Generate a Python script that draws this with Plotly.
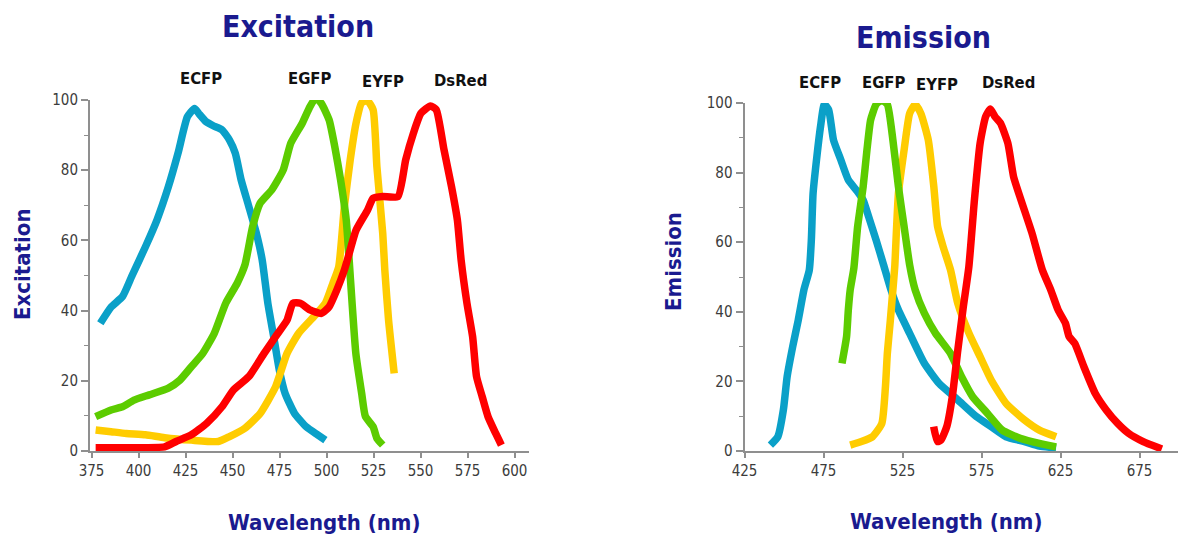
import plotly.graph_objects as go

# ---------------- data ----------------
# Excitation spectra
ex_ecfp_nm = [379.7, 385.4, 391.5, 396.6, 403.7, 409.8, 415.9, 421, 426, 429.8, 432, 436, 440, 444.4,
              448.4, 451.5, 454.6, 458.7, 462.7, 465.8, 468.8, 471.9, 474.9, 478, 483, 489.2, 495.3, 499.4]
ex_ecfp_val = [36.4, 41, 44, 50, 58.2, 65.8, 75.3, 84.8, 95.2, 97.6, 96.2, 93.8, 92.6, 91.5,
               88.6, 84.8, 77.2, 69.6, 62.0, 54.4, 42.1, 32.6, 23.1, 16.4, 10.7, 6.9, 4.6, 3.1]

ex_egfp_nm = [377.2, 385.4, 391.5, 397.6, 405.7, 415.9, 422, 428.1, 434.2, 440.3, 446.4, 452.5, 456.6,
              460.7, 464.7, 470.9, 477, 481, 487.1, 491.2, 494.3, 497.3, 501.4, 504.4, 507.5, 510.5,
              512.6, 515.6, 518.7, 520.7, 524.8, 526.8, 529.9]
ex_egfp_val = [9.8, 11.7, 12.6, 14.5, 16, 17.9, 20.2, 24, 27.8, 33.5, 42.1, 47.8, 53,
               63.9, 70.6, 74.4, 80.1, 87.7, 93.4, 98.1, 100.6, 99, 94.3, 86.7, 77.2, 65.8,
               50, 27.8, 16.4, 9.8, 6.9, 3.6, 1.7]

ex_eyfp_nm = [377.2, 385.4, 393.5, 403.7, 413.9, 428.1, 442.4, 448.4, 456.6, 464.7, 472.9, 479, 485.1,
              493.3, 499.4, 503.4, 506.5, 509.5, 512.6, 515.7, 518.7, 521.8, 524.8, 526.8, 529.9,
              531, 533, 536]
ex_eyfp_val = [6, 5.5, 5, 4.6, 3.8, 3.1, 2.7, 4.1, 6.5, 10.7, 18.3, 27.8, 33.5,
               38.3, 42.1, 47.8, 52.5, 69.6, 82.9, 93.4, 99.2, 99.8, 97.2, 81, 62,
               51.6, 37.3, 22.1]

ex_dsred_nm = [377.2, 387.4, 397.6, 413.9, 420, 428.1, 436.3, 444.4, 450.5, 458.7, 466.8, 472.9, 479,
               482.1, 486.1, 491.2, 497.3, 501.4, 505.5, 509.5, 511.6, 515.7, 521.8, 524.8, 529.9,
               538, 542.1, 546.2, 550.2, 555.3, 558.4, 562.5, 566.5, 569.6, 571.6, 574.7, 577.7,
               579.8, 582.8, 585.9, 590, 593]
ex_dsred_val = [0.95, 0.95, 0.95, 1.2, 2.7, 4.6, 7.9, 12.6, 17.4, 21.2, 27.8, 32.6, 37.3,
                42.1, 42.1, 40.2, 39.2, 41.1, 45.9, 51.6, 55.4, 62.9, 68.6, 72, 72.5,
                72.5, 82.9, 90.5, 96.2, 98.3, 97.2, 85.8, 75.3, 65.8, 54.4, 42.1, 32.6,
                21.2, 15.5, 9.8, 5, 1.7]

# Emission spectra
em_ecfp_nm = [441.4, 446.1, 449.6, 452, 455.5, 459, 462.6, 466, 467.3, 468.4, 470.8, 473.1, 475.5,
              478.3, 481.3, 486, 490.7, 496.6, 500.1, 503.6, 508.3, 513, 517.7, 522.4, 529.5,
              538.8, 548.2, 560, 571.7, 581.1, 590.5, 602.2, 611.6, 622.2]
em_ecfp_val = [1.7, 4.1, 11.8, 21.4, 30, 37.6, 46.3, 52, 60.6, 74, 84.6, 93.2, 99.6,
               98, 89.4, 83.6, 77.9, 74.5, 72.1, 67.3, 60.6, 53.5, 46.3, 40.5, 33.8,
               25.2, 19.4, 14.7, 9.9, 7, 4.1, 2.7, 1.4, 0.9]

em_egfp_nm = [486.7, 489.6, 490.7, 491.9, 494.2, 496.6, 500.1, 502.5, 504.8, 508.3, 511.8, 515.4,
              518.9, 522.4, 526, 529.5, 533, 538.8, 545.9, 555.3, 562.3, 569.4, 578.8, 588.1,
              599.9, 611.6, 622.2]
em_egfp_val = [25.2, 32.9, 40.5, 46.3, 52.5, 64.5, 76, 86.5, 95.1, 99.6, 100.8, 99.6,
               89.4, 76, 64.5, 53.5, 46.3, 39.6, 33.8, 28.1, 21.4, 15.6, 10.8, 6,
               3.6, 2.2, 1.2]

em_eyfp_nm = [491.9, 499, 506, 511.9, 514.2, 515.4, 517.3, 518.9, 520.1, 522.4, 526, 529.5, 533,
              536.6, 541.3, 544.8, 547.2, 550.7, 555.4, 560, 567.1, 574.1, 581.1, 590.5, 602.2,
              611.6, 622.2]
em_eyfp_val = [1.7, 2.7, 4.1, 7.9, 18.5, 28.1, 37.6, 46.3, 53, 74, 86.5, 97, 99.6,
               97, 89.4, 76, 64.5, 58.7, 52, 42.4, 33.8, 27.1, 20.4, 13.7, 8.9,
               6, 4.1]

em_dsred_nm = [544.7, 547.1, 549.4, 553, 556.5, 560, 563.5, 567, 570.5, 574.1, 577.6, 580.6, 583.5,
               587, 591.7, 595.3, 600, 607, 613.5, 618.8, 623.5, 628.1, 630.4, 634, 639.8, 646.9,
               653.9, 661, 668, 677.3, 689.1]
em_dsred_val = [7, 2.7, 3.2, 7, 15.6, 29, 41.5, 53, 72.1, 88.4, 96.1, 98.3, 96.1,
                94.2, 88.4, 78.8, 72.1, 62.5, 52, 46.3, 40.5, 36.7, 32.9, 30.9, 24.2, 16.6,
                11.8, 8, 5.1, 2.7, 0.6]

protein_names = ["ECFP", "EGFP", "EYFP", "DsRed"]
ex_ticks = [375, 400, 425, 450, 475, 500, 525, 550, 575, 600]
em_ticks = [425, 475, 525, 575, 625, 675]
y_ticks = [0, 20, 40, 60, 80, 100]

# ---------------- styling ----------------
W, H = 1186, 539
OFF = 8  # the page body margin shifts the figure by this many pixels
COLORS = {"ECFP": "#0aa0c8", "EGFP": "#5ccc00", "EYFP": "#ffcc00", "DsRed": "#ff0000"}
NAVY = "#1a1a8f"
AXIS_GRAY = "#8f8f8f"
FONT = "DejaVu Sans Condensed, Liberation Sans Narrow, Arial Narrow, sans-serif"


def px_x(p):
    return (p - OFF) / W


def px_y(p):
    return 1 - (p - OFF) / H


fig = go.Figure()

ex_series = {"ECFP": (ex_ecfp_nm, ex_ecfp_val), "EYFP": (ex_eyfp_nm, ex_eyfp_val),
             "EGFP": (ex_egfp_nm, ex_egfp_val), "DsRed": (ex_dsred_nm, ex_dsred_val)}
em_series = {"ECFP": (em_ecfp_nm, em_ecfp_val), "EYFP": (em_eyfp_nm, em_eyfp_val),
             "EGFP": (em_egfp_nm, em_egfp_val), "DsRed": (em_dsred_nm, em_dsred_val)}

for name, (xs, ys) in ex_series.items():
    fig.add_trace(go.Scatter(x=xs, y=ys, mode="lines", name=name, xaxis="x", yaxis="y",
                             line=dict(color=COLORS[name], width=7.5, shape="spline", smoothing=0.5),
                             cliponaxis=False, showlegend=False, hoverinfo="skip"))
for name, (xs, ys) in em_series.items():
    fig.add_trace(go.Scatter(x=xs, y=ys, mode="lines", name=name, xaxis="x2", yaxis="y2",
                             line=dict(color=COLORS[name], width=7.5, shape="spline", smoothing=0.5),
                             cliponaxis=False, showlegend=False, hoverinfo="skip"))

tickfont = dict(family=FONT, size=15, color="#3c3c3c")
common_x = dict(showgrid=False, zeroline=False, showline=True, linecolor=AXIS_GRAY, linewidth=2,
                ticks="outside", ticklen=5, tickwidth=2, tickcolor=AXIS_GRAY, tickfont=tickfont,
                fixedrange=True, automargin=False)
common_y = dict(showgrid=False, zeroline=False, showline=True, linecolor=AXIS_GRAY, linewidth=2,
                ticks="outside", ticklen=7, tickwidth=2, tickcolor=AXIS_GRAY, tickfont=tickfont,
                tickvals=y_ticks, range=[0, 100], fixedrange=True, automargin=False,
                minor=dict(dtick=10, ticks="outside", ticklen=4, tickwidth=1, tickcolor=AXIS_GRAY))

fig.update_layout(
    width=W, height=H,
    margin=dict(l=0, r=0, t=0, b=0, pad=0, autoexpand=False),
    paper_bgcolor="white", plot_bgcolor="white",
    xaxis=dict(common_x, domain=[px_x(90), px_x(529)], range=[374.2, 607.7],
               tickvals=ex_ticks, anchor="y"),
    yaxis=dict(common_y, domain=[px_y(451), px_y(100)], anchor="x"),
    xaxis2=dict(common_x, domain=[px_x(744.5), px_x(1186)], range=[425, 704.4],
                tickvals=em_ticks, anchor="y2"),
    yaxis2=dict(common_y, domain=[px_y(451), px_y(103)], anchor="x2"),
)

annotations = []


def add_text(text, x, y, size, color, angle=0, bold=True):
    annotations.append(dict(text=f"<b>{text}</b>" if bold else text, x=px_x(x), y=px_y(y),
                            xref="paper", yref="paper", xanchor="center", yanchor="middle",
                            showarrow=False, textangle=angle,
                            font=dict(family=FONT, size=size, color=color)))


# chart titles
add_text("Excitation", 298, 27, 30, NAVY)
add_text("Emission", 923, 37, 30, NAVY)
# axis titles
add_text("Excitation", 22, 264, 22, NAVY, angle=-90)
add_text("Emission", 673, 262, 22, NAVY, angle=-90)
add_text("Wavelength (nm)", 324, 522, 22, NAVY)
add_text("Wavelength (nm)", 946, 521, 22, NAVY)
# protein labels
ex_label_pos = [(201, 79), (310, 79), (383, 82), (460, 80)]
em_label_pos = [(820, 83), (883, 83), (937, 85), (1008, 83)]
for name, (lx, ly) in zip(protein_names, ex_label_pos):
    add_text(name, lx, ly, 16.5, "#111111")
for name, (lx, ly) in zip(protein_names, em_label_pos):
    add_text(name, lx, ly, 16.5, "#111111")

fig.update_layout(annotations=annotations)

fig.write_html("out.html")
